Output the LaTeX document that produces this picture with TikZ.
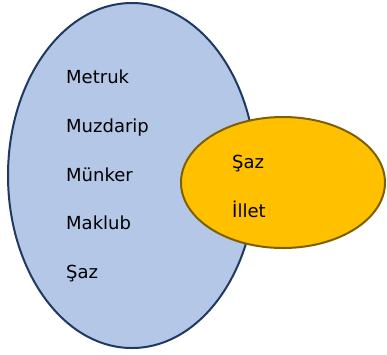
\documentclass[tikz,border=0pt]{standalone}
\usepackage{fontspec}
\setmainfont{DejaVu Sans}
\usetikzlibrary{shapes.geometric,positioning}
\definecolor{setblue}{HTML}{B4C7E7}
\definecolor{setnavy}{HTML}{1F3864}
\definecolor{setgold}{HTML}{FFC000}
\definecolor{setbrown}{HTML}{7F6000}
\tikzstyle{term} = [inner sep=0pt, anchor=base west, font=\fontsize{18}{21}\selectfont]

\begin{document}
\begin{tikzpicture}[x=1pt, y=-1pt]
          \useasboundingbox (0,0) rectangle (387,354);
          % sets
          \tikzstyle{bigset} = [ellipse, draw=setnavy, fill=setblue, line width=2pt, inner sep=0pt]
          \tikzstyle{smallset} = [ellipse, draw=setbrown, fill=setgold, line width=2pt, inner sep=0pt]

          \node[bigset, minimum width=248pt, minimum height=345pt] (words) at (132,175.5) {};
          \node[smallset, minimum width=204pt, minimum height=131pt] (faults) at (283,182.5) {};

          % terms in the big set
          \node[term] (metruk)   at (66,83)  {Metruk};
          \node[term] (muzdarip) at (66,132) {Muzdarip};
          \node[term] (munker)   at (66,181) {Münker};
          \node[term] (maklub)   at (66,229) {Maklub};
          \node[term] (saz)      at (66,278) {Şaz};

          % terms in the small set
          \node[term] (saztwo) at (232,168) {Şaz};
          \node[term] (illet)  at (232,217) {İllet};
        \end{tikzpicture}
\end{document}
